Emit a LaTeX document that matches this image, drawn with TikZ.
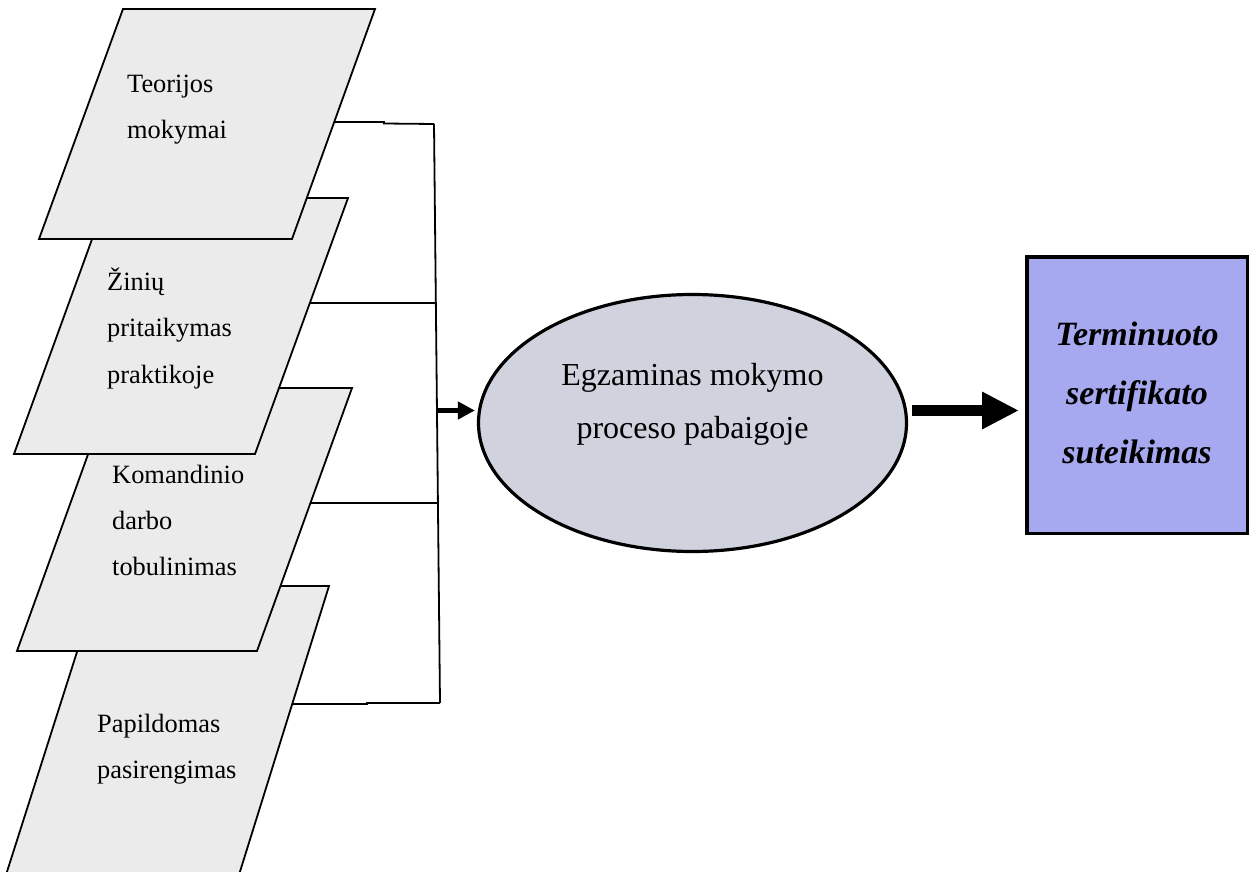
\documentclass[tikz,border=0pt]{standalone}
\usepackage{fontspec}
\setmainfont{Liberation Serif}
\usetikzlibrary{shapes.geometric,arrows.meta,calc}
\definecolor{parfill}{RGB}{235,235,235}
\definecolor{ellfill}{RGB}{208,211,222}
\definecolor{rectfill}{RGB}{166,168,240}
\newcommand\ptextfont{\fontsize{26.4}{46}\selectfont}
\begin{document}
\begin{tikzpicture}[x=1pt,y=-1pt,
  parbox/.style={draw=black,fill=parfill,line width=1.8pt,line join=miter},
  ptext/.style={anchor=base west,inner sep=0pt,font=\ptextfont},
  wire/.style={draw=black,line width=1.8pt},
  examnode/.style={ellipse,draw=black,fill=ellfill,line width=3.2pt,minimum width=428pt,minimum height=257pt,inner sep=0pt},
  certnode/.style={rectangle,draw=black,fill=rectfill,line width=3.5pt,minimum width=220.5pt,minimum height=276.5pt,inner sep=0pt}]
\useasboundingbox (0,0) rectangle (1251,872);
\clip (0,0) rectangle (1251,872);
% parallelogram corners
\coordinate (p1tl) at (123,9);  \coordinate (p1tr) at (375,9);  \coordinate (p1br) at (292,239); \coordinate (p1bl) at (39,239);
\coordinate (p2tl) at (107,198); \coordinate (p2tr) at (348,198); \coordinate (p2br) at (255,454); \coordinate (p2bl) at (14,454);
\coordinate (p3tl) at (112,388); \coordinate (p3tr) at (352,388); \coordinate (p3br) at (257,651); \coordinate (p3bl) at (17,651);
\coordinate (p4tl) at (98,586);  \coordinate (p4tr) at (329,586); \coordinate (p4br) at (238,878); \coordinate (p4bl) at (5,878);
% draw order: bottom first
\draw[parbox] (p4tl) -- (p4tr) -- (p4br) -- (p4bl) -- cycle;
\draw[parbox] (p3tl) -- (p3tr) -- (p3br) -- (p3bl) -- cycle;
\draw[parbox] (p2tl) -- (p2tr) -- (p2br) -- (p2bl) -- cycle;
\draw[parbox] (p1tl) -- (p1tr) -- (p1br) -- (p1bl) -- cycle;
% texts
\node[ptext] (t1) at (127,93) {\begin{tabular}[t]{@{}l@{}}Teorijos\\mokymai\end{tabular}};
\node[ptext,font=\fontsize{26.4}{46.5}\selectfont] (t2) at (107,290) {\begin{tabular}[t]{@{}l@{}}Žinių\\pritaikymas\\praktikoje\end{tabular}};
\node[ptext] (t3) at (112,483) {\begin{tabular}[t]{@{}l@{}}Komandinio\\darbo\\tobulinimas\end{tabular}};
\node[ptext] (t4) at (97,732) {\begin{tabular}[t]{@{}l@{}}Papildomas\\pasirengimas\end{tabular}};
% connection points on the right edges
\coordinate (c1) at (334,122);
\coordinate (c2) at (310,303);
\coordinate (c3) at (310.5,503);
\coordinate (c4) at (292,704);
% bus
\coordinate (bt) at (434,124);
\coordinate (bb) at (440,703);
\coordinate (b2) at (436,303);
\coordinate (b3) at (438,503);
\coordinate (jn) at (437,410.5);
\draw[wire] (bt) -- (bb);
\draw[wire] (c1) -- (384,122) -- (384,123.5) -- (bt);
\draw[wire] (c2) -- (b2);
\draw[wire] (c3) -- (b3);
\draw[wire] (c4) -- (367,704) -- (367,703) -- (bb);
% exam ellipse
\node[examnode] (ell) at (692.5,423) {};
\node[anchor=base,inner sep=0pt,font=\fontsize{32}{53}\selectfont] (elltext) at (692.5,385)
  {\begin{tabular}[t]{@{}c@{}}Egzaminas mokymo\\proceso pabaigoje\end{tabular}};
% certificate box
\node[certnode] (rect) at (1137,395) {};
\node[anchor=base,inner sep=0pt,font=\fontsize{34}{59}\selectfont\bfseries\itshape] (recttext) at (1137,345)
  {\begin{tabular}[t]{@{}c@{}}Terminuoto\\sertifikato\\suteikimas\end{tabular}};
% arrows
\draw[line width=5.5pt,-{Triangle[length=17pt,width=17pt]},shorten >=2pt] (jn) -- (jn -| ell.west);
\draw[line width=11pt,-{Triangle[length=37pt,width=35pt]},shorten <=4pt,shorten >=6pt] (ell.east |- jn) -- (rect.west |- jn);
\end{tikzpicture}
\end{document}
